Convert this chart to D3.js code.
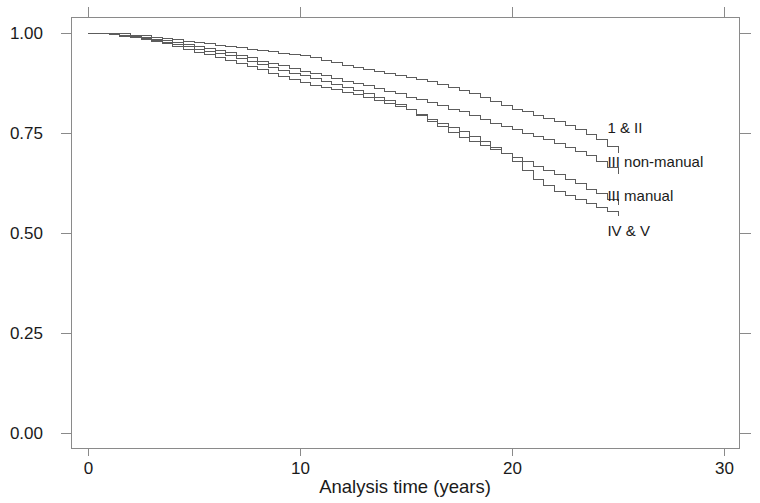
<!DOCTYPE html>
<html>
<head>
<meta charset="utf-8">
<script src="https://cdn.jsdelivr.net/npm/d3@7"></script>
<style>
  html, body { margin: 0; padding: 0; background: #fff; }
  svg { display: block; }
  text { font-family: "Liberation Sans", Arial, sans-serif; fill: #1a1a1a; }
</style>
</head>
<body>
<svg id="chart" width="760" height="503"></svg>
<script>
// ---- data ----
const times = [0, 0.5, 1, 1.5, 2, 2.5, 3, 3.5, 4, 4.5, 5, 5.5, 6, 6.5, 7, 7.5, 8, 8.5, 9, 9.5,
  10, 10.5, 11, 11.5, 12, 12.5, 13, 13.5, 14, 14.5, 15, 15.5, 16, 16.5, 17, 17.5, 18, 18.5, 19, 19.5,
  20, 20.5, 21, 21.5, 22, 22.5, 23, 23.5, 24, 24.5, 25];

const surv_I_II = [1.0, 1.0, 1.0, 0.998, 0.995, 0.993, 0.99, 0.987, 0.984, 0.98,
  0.976, 0.973, 0.97, 0.967, 0.964, 0.96, 0.957, 0.953, 0.95, 0.947,
  0.943, 0.938, 0.932, 0.926, 0.92, 0.915, 0.91, 0.905, 0.9, 0.895,
  0.89, 0.884, 0.878, 0.872, 0.865, 0.857, 0.848, 0.838, 0.828, 0.819,
  0.81, 0.803, 0.795, 0.787, 0.778, 0.768, 0.758, 0.746, 0.733, 0.717, 0.70];

const surv_III_nonmanual = [1.0, 0.999, 0.998, 0.995, 0.992, 0.989, 0.985, 0.981, 0.976, 0.971,
  0.966, 0.961, 0.956, 0.951, 0.945, 0.938, 0.93, 0.924, 0.918, 0.912,
  0.905, 0.899, 0.893, 0.887, 0.88, 0.874, 0.868, 0.862, 0.855, 0.848,
  0.84, 0.833, 0.826, 0.818, 0.81, 0.803, 0.795, 0.785, 0.775, 0.767,
  0.758, 0.75, 0.742, 0.734, 0.725, 0.715, 0.705, 0.693, 0.68, 0.664, 0.647];

const surv_III_manual = [1.0, 0.999, 0.997, 0.994, 0.99, 0.986, 0.982, 0.977, 0.972, 0.966,
  0.96, 0.955, 0.949, 0.943, 0.936, 0.929, 0.921, 0.914, 0.907, 0.9,
  0.893, 0.886, 0.879, 0.872, 0.864, 0.856, 0.848, 0.84, 0.831, 0.821,
  0.81, 0.795, 0.78, 0.766, 0.752, 0.74, 0.728, 0.718, 0.708, 0.699,
  0.69, 0.678, 0.667, 0.657, 0.647, 0.635, 0.623, 0.61, 0.598, 0.584, 0.57];

const surv_IV_V = [1.0, 0.998, 0.996, 0.992, 0.988, 0.984, 0.98, 0.973, 0.966, 0.959,
  0.952, 0.946, 0.939, 0.932, 0.925, 0.917, 0.909, 0.9, 0.892, 0.884,
  0.877, 0.87, 0.864, 0.858, 0.852, 0.846, 0.84, 0.832, 0.824, 0.816,
  0.808, 0.797, 0.785, 0.775, 0.765, 0.754, 0.742, 0.729, 0.715, 0.698,
  0.68, 0.657, 0.635, 0.62, 0.605, 0.595, 0.585, 0.575, 0.565, 0.554, 0.543];

const seriesNames = ["1 & II", "III non-manual", "III manual", "IV & V"];
const labelY = [0.762, 0.677, 0.593, 0.505];
const labelT = 24.5;
const xTicks = [0, 10, 20, 30];
const yTicks = [0, 0.25, 0.5, 0.75, 1];
const xTitle = "Analysis time (years)";

// ---- drawing ----
const svg = d3.select("#chart");
const frame = { left: 71, right: 739, top: 17, bottom: 448 };

const x = d3.scaleLinear().domain([0, 30]).range([88, 724]);
const y = d3.scaleLinear().domain([0, 1]).range([433, 33]);

const frameColor = "#8a8a8a";
const lineColor = "#5c5c5c";

// frame
svg.append("rect")
  .attr("x", frame.left + 0.5).attr("y", frame.top + 0.5)
  .attr("width", frame.right - frame.left).attr("height", frame.bottom - frame.top)
  .attr("fill", "none").attr("stroke", frameColor).attr("stroke-width", 1);

function styleAxis(g) {
  g.select(".domain").remove();
  g.selectAll(".tick line").attr("stroke", frameColor).attr("shape-rendering", "crispEdges");
  g.selectAll(".tick text").style("font-size", "17px").attr("fill", "#1a1a1a");
}

svg.append("g")
  .attr("transform", `translate(0,${frame.bottom})`)
  .call(d3.axisBottom(x).tickValues(xTicks).tickSize(8).tickPadding(6).tickFormat(d3.format("d")))
  .call(styleAxis);

svg.append("g")
  .attr("transform", `translate(0,${frame.top})`)
  .call(d3.axisTop(x).tickValues(xTicks).tickSize(10).tickFormat(""))
  .call(styleAxis);

svg.append("g")
  .attr("transform", `translate(${frame.left},0)`)
  .call(d3.axisLeft(y).tickValues(yTicks).tickSize(10).tickPadding(18).tickFormat(d3.format(".2f")))
  .call(styleAxis);

svg.append("g")
  .attr("transform", `translate(${frame.right},0)`)
  .call(d3.axisRight(y).tickValues(yTicks).tickSize(12).tickFormat(""))
  .call(styleAxis);

// axis title
svg.append("text")
  .attr("x", (frame.left + frame.right) / 2)
  .attr("y", 493)
  .attr("text-anchor", "middle")
  .style("font-size", "18.5px")
  .text(xTitle);

// curves
const allSeries = [surv_I_II, surv_III_nonmanual, surv_III_manual, surv_IV_V];
const line = d3.line()
  .x(d => x(d[0]))
  .y(d => y(d[1]))
  .curve(d3.curveStepAfter);

allSeries.forEach((vals, i) => {
  const pts = times.map((t, j) => [t, vals[j]]);
  svg.append("path")
    .datum(pts)
    .attr("d", line)
    .attr("fill", "none")
    .attr("stroke", lineColor)
    .attr("stroke-width", 1)
    .attr("shape-rendering", "crispEdges");

  svg.append("text")
    .attr("x", x(labelT))
    .attr("y", y(labelY[i]))
    .attr("dy", "0.35em")
    .style("font-size", "15px")
    .text(seriesNames[i]);
});
</script>
</body>
</html>
